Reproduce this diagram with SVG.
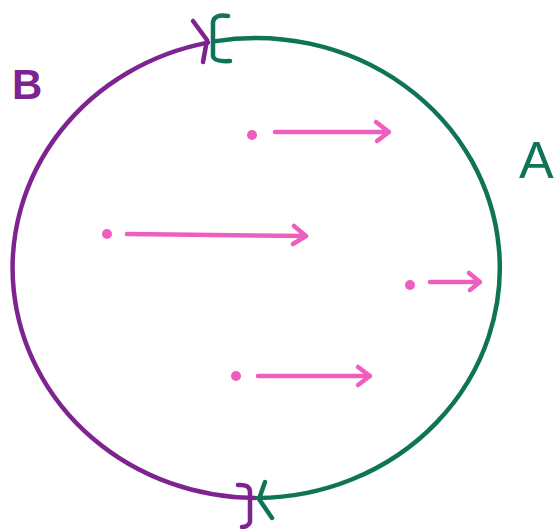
<svg xmlns="http://www.w3.org/2000/svg" width="555" height="529" viewBox="0 0 555 529">
<style>
.s{fill:none;stroke-width:4.5;stroke-linecap:round;stroke-linejoin:round}
.p{stroke:#7e2490}
.g{stroke:#0f7358}
.k{fill:none;stroke:#ee5ebf;stroke-width:4.5;stroke-linecap:round;stroke-linejoin:round}
.dot{fill:#ee5ebf}
.lb{font-family:"Liberation Sans",Arial,sans-serif;font-weight:bold}
.la{font-family:"Liberation Sans",Arial,sans-serif}
</style>
<rect width="555" height="529" fill="#ffffff"/>
<g id="arcB">
<path class="s p" d="M255,497.99 A244,230 0 0,1 208,42.6"/>
<path class="s p" d="M193,21 L207,40 L203,62"/>
<path class="s p" d="M238,485 Q250,484 250,492 L250,522 Q248,527 242,527"/>
</g>
<g id="arcA">
<path class="s g" d="M214,41.4 A244,230 0 1,1 258,497.99"/>
<path class="s g" d="M228,16 Q214,14 213,22 L213,56 Q214,62 230,61"/>
<path class="s g" d="M265,482 L259,499 L272,518"/>
</g>
<g id="labelB"><text class="lb" x="12" y="99" font-size="42" fill="#7e2490">B</text></g>
<g id="labelA"><text class="la" x="519" y="178" font-size="52" fill="#0f7358">A</text></g>
<g id="vectors">
<circle class="dot" cx="252" cy="135" r="5"/>
<path class="k" d="M275,132 L388,132 M376,122 L389,132 L377,141"/>
<circle class="dot" cx="107" cy="234" r="5"/>
<path class="k" d="M127,234 L305,236 M294,226 L306,236 L293,244"/>
<circle class="dot" cx="410" cy="285" r="5"/>
<path class="k" d="M430,282 L479,282 M469,273 L480,282 L470,290"/>
<circle class="dot" cx="236" cy="376" r="5"/>
<path class="k" d="M258,376 L369,376 M358,367 L370,376 L358,385"/>
</g>
</svg>
